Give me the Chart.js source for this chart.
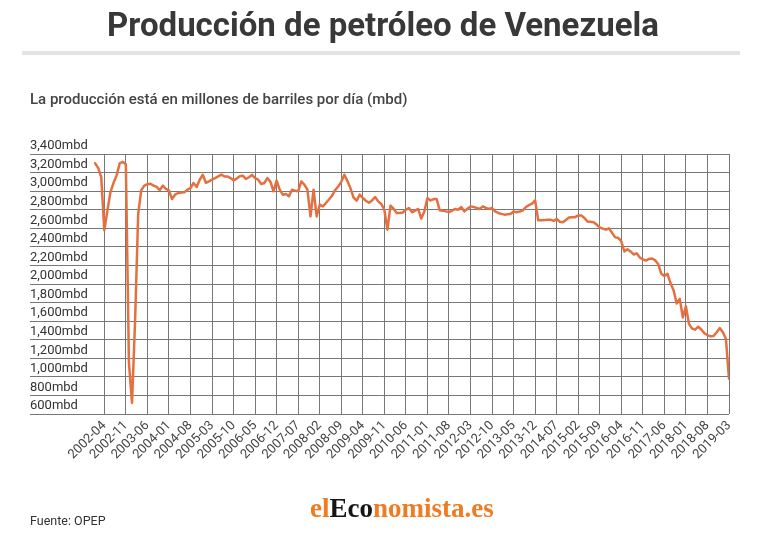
<!DOCTYPE html>
<html><head><meta charset="utf-8">
<script src="https://cdn.jsdelivr.net/npm/chart.js@4.4.1/dist/chart.umd.min.js"></script>
<style>
html,body{margin:0;padding:0;background:#fff;}
body{width:762px;height:535px;position:relative;overflow:hidden;font-family:Roboto,sans-serif;}
#title{position:absolute;left:0;top:5px;width:766px;text-align:center;font-size:33px;font-weight:700;color:#383838;white-space:nowrap;}
#bar{position:absolute;left:22px;top:51px;width:718px;height:4px;background:#e3e3e3;}
#sub{position:absolute;left:30px;top:90px;font-size:15px;font-weight:500;color:#444;white-space:nowrap;}
#src{position:absolute;left:30px;top:513px;font-size:12.5px;color:#333;white-space:nowrap;}
#logo{position:absolute;left:310px;top:493px;font-family:'Liberation Serif',serif;font-weight:700;font-size:27px;letter-spacing:0px;white-space:nowrap;}
.o{color:#ef7b22}.k{color:#151515}
canvas{position:absolute;left:0;top:0;}
</style></head>
<body>
<canvas id="c" width="762" height="535"></canvas>
<div id="title">Producción de petróleo de Venezuela</div>
<div id="bar"></div>
<div id="sub">La producción está en millones de barriles por día (mbd)</div>
<div id="src">Fuente: OPEP</div>
<div id="logo"><span class="o">el</span><span class="k">Eco</span><span class="o">nomista.es</span></div>
<script>
// Monthly production (thousand barrels per day), 2002-01 .. 2019-03
const prod2002 = [3300, 3250, 3150, 2580, 2790, 2990, 3090, 3170, 3300, 3315, 3290, 1150];
const prod2003 = [720, 1600, 2750, 3010, 3059, 3075, 3080, 3060, 3045, 3010, 3059, 3025];
const prod2004 = [3008, 2915, 2962, 2980, 2985, 2987, 3016, 3034, 3088, 3045, 3123, 3177];
const prod2005 = [3090, 3105, 3123, 3140, 3159, 3177, 3159, 3159, 3141, 3116, 3135, 3160];
const prod2006 = [3166, 3131, 3150, 3175, 3141, 3123, 3077, 3088, 3141, 3100, 2998, 3113];
const prod2007 = [3016, 2962, 2970, 2944, 3016, 3005, 2998, 3105, 3070, 3016, 2728, 3016];
const prod2008 = [2728, 2854, 2836, 2872, 2910, 2950, 3010, 3050, 3100, 3177, 3110, 3030];
const prod2009 = [2930, 2897, 2962, 2926, 2897, 2875, 2900, 2937, 2890, 2862, 2800, 2585];
const prod2010 = [2844, 2811, 2765, 2765, 2770, 2800, 2818, 2772, 2790, 2808, 2705, 2782];
const prod2011 = [2926, 2900, 2915, 2915, 2793, 2790, 2782, 2775, 2790, 2808, 2800, 2829];
const prod2012 = [2782, 2810, 2836, 2829, 2820, 2808, 2836, 2820, 2808, 2818, 2782, 2765];
const prod2013 = [2755, 2747, 2750, 2754, 2782, 2772, 2780, 2793, 2829, 2850, 2865, 2900];
const prod2014 = [2686, 2686, 2688, 2693, 2693, 2680, 2700, 2670, 2665, 2690, 2715, 2720];
const prod2015 = [2720, 2739, 2739, 2711, 2674, 2670, 2665, 2640, 2610, 2596, 2585, 2600];
const prod2016 = [2550, 2502, 2497, 2460, 2350, 2375, 2351, 2318, 2330, 2285, 2265, 2252];
const prod2017 = [2270, 2275, 2254, 2215, 2110, 2085, 2110, 2010, 1930, 1790, 1840, 1640];
const prod2018 = [1760, 1570, 1520, 1508, 1540, 1510, 1470, 1450, 1436, 1440, 1480, 1526];
const prod2019 = [1480, 1410, 980];

const years = [2002,2003,2004,2005,2006,2007,2008,2009,2010,2011,2012,2013,2014,2015,2016,2017,2018,2019];
const yearly = [prod2002,prod2003,prod2004,prod2005,prod2006,prod2007,prod2008,prod2009,prod2010,prod2011,prod2012,prod2013,prod2014,prod2015,prod2016,prod2017,prod2018,prod2019];

const tickLabels = ['2002-04','2002-11','2003-06','2004-01','2004-08','2005-03','2005-10','2006-05','2006-12','2007-07','2008-02','2008-09','2009-04','2009-11','2010-06','2011-01','2011-08','2012-03','2012-10','2013-05','2013-12','2014-07','2015-02','2015-09','2016-04','2016-11','2017-06','2018-01','2018-08','2019-03'];
const yTicks = [600,800,1000,1200,1400,1600,1800,2000,2200,2400,2600,2800,3000,3200,3400];

// categories (months) and values
const months = [];
const values = [];
years.forEach((y, yi) => {
  yearly[yi].forEach((v, mi) => {
    months.push(y + '-' + String(mi + 1).padStart(2, '0'));
    values.push(v);
  });
});
const points = values.map((v, i) => ({x: i, y: v}));

new Chart(document.getElementById('c'), {
  type: 'line',
  data: { datasets: [{ data: points, borderColor: '#e5703f', borderWidth: 2.5, pointRadius: 0,
    tension: 0, borderJoinStyle: 'round', borderCapStyle: 'round', fill: false }] },
  options: {
    responsive: false, animation: false, devicePixelRatio: 1,
    layout: { padding: { left: 30, right: 33, top: 154, bottom: 61 } },
    plugins: { legend: { display: false }, tooltip: { enabled: false } },
    scales: {
      x: {
        type: 'linear', min: -21.15, max: months.length - 1,
        afterBuildTicks: (s) => { s.ticks = tickLabels.map(l => ({ value: months.indexOf(l) })); },
        afterFit: (s) => { s.height = 60; },
        ticks: { autoSkip: false, maxRotation: 45, minRotation: 45, padding: 4, color: '#444',
          font: { family: 'Roboto', size: 13 }, callback: (v) => months[v] },
        grid: { color: '#777', lineWidth: 1, drawTicks: false },
        border: { display: false }
      },
      y: {
        min: yTicks[0], max: yTicks[yTicks.length - 1],
        afterBuildTicks: (s) => { s.ticks = yTicks.map(v => ({ value: v })); },
        ticks: { autoSkip: false, mirror: true, padding: 0, labelOffset: -8, color: '#333',
          font: { family: 'Roboto', size: 13 },
          callback: (v) => v.toLocaleString('en-US') + 'mbd' },
        grid: { color: '#777', lineWidth: 1, drawTicks: false },
        border: { display: false }
      }
    }
  }
});
</script>
</body></html>
